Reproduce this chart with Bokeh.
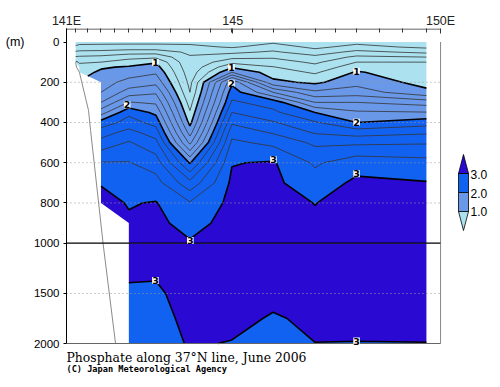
import numpy as np
from bokeh.plotting import figure
from bokeh.models import Range1d, FixedTicker, LabelSet, ColumnDataSource, LinearAxis
from bokeh.core.properties import value
from bokeh.embed import file_html
from bokeh.resources import INLINE

N = np.nan

# ---------------- data ----------------
# station longitudes (deg E)
lon = [141.22, 141.31, 141.83, 142.50, 143.15, 143.97, 144.98, 145.97, 146.98, 147.98, 149.66]
# grid of the top-axis ticks
tick_lon = [141.22, 141.51, 141.83, 142.16, 142.50, 142.82, 143.14, 143.50, 143.97, 144.46,
            144.97, 145.47, 145.97, 146.50, 146.99, 147.48, 147.98, 148.52, 149.08, 149.66]

depth_upper = [0, 25, 50, 75, 100, 125, 150, 200, 250, 300, 350, 400, 450, 500, 600, 700, 800, 900, 1000]

# phosphate per station, down depth_upper
po4_u_01 = [0.15, 0.22, 0.43, 0.62, 0.84, N, N, N, N, N, N, N, N, N, N, N, N, N, N]
po4_u_02 = [0.15, 0.25, 0.45, 0.63, 0.78, 0.86, 0.93, N, N, N, N, N, N, N, N, N, N, N, N]
po4_u_03 = [0.15, 0.26, 0.46, 0.65, 0.80, 0.98, 1.03, 1.11, 1.20, 1.40, 1.71, 2.08, 2.31, 2.47, 2.81, 2.99, 3.05, N, N]
po4_u_04 = [0.15, 0.27, 0.51, 0.73, 0.90, 1.02, 1.10, 1.27, 1.49, 1.81, 2.15, 2.28, 2.47, 2.62, 2.81, 2.90, 2.99, 3.02, 3.03]
po4_u_05 = [0.15, 0.27, 0.51, 0.76, 0.98, 1.08, 1.17, 1.34, 1.57, 1.77, 1.95, 2.13, 2.30, 2.46, 2.70, 2.88, 3.01, 3.04, 3.05]
po4_u_06 = [0.15, 0.25, 0.36, 0.42, 0.43, 0.45, 0.48, 0.54, 0.60, 0.71, 0.82, 0.94, 1.12, 1.35, 1.98, 2.46, 2.82, 2.94, 3.015]
po4_u_07 = [0.14, 0.18, 0.35, 0.54, 0.74, 0.97, 1.20, 1.95, 2.11, 2.23, 2.40, 2.57, 2.73, 2.84, 2.99, 3.04, 3.05, 3.06, 3.07]
po4_u_08 = [0.17, 0.29, 0.43, 0.57, 0.70, 0.81, 0.90, 1.05, 1.60, 2.12, 2.24, 2.42, 2.58, 2.75, 3.02, 3.04, 3.05, 3.06, 3.06]
po4_u_09 = [0.12, 0.16, 0.28, 0.46, 0.56, 0.67, 0.77, 0.96, 1.24, 1.60, 2.00, 2.22, 2.38, 2.56, 2.77, 2.89, 2.997, 3.02, 3.04]
po4_u_10 = [0.15, 0.26, 0.46, 0.64, 0.80, 0.91, 1.02, 1.13, 1.30, 1.60, 1.83, 2.00, 2.31, 2.56, 2.92, 3.04, 3.05, 3.05, 3.06]
po4_u_11 = [0.13, 0.16, 0.35, 0.60, 0.80, 0.83, 0.86, 0.93, 1.05, 1.51, 1.81, 2.11, 2.37, 2.58, 2.87, 3.01, 3.03, 3.05, 3.06]

lon_lower = lon[3:]
depth_lower = [1000, 1250, 1500, 1750, 2000]
po4_l_04 = [3.03, 3.02, 2.985, 2.95, 2.92]
po4_l_05 = [3.05, 3.02, 2.98, 2.96, 2.95]
po4_l_06 = [3.015, 3.05, 3.05, 3.03, 3.01]
po4_l_07 = [3.07, 3.06, 3.05, 3.03, 2.995]
po4_l_08 = [3.06, 3.05, 3.03, 2.99, 2.96]
po4_l_09 = [3.04, 3.05, 3.04, 3.02, 2.999]
po4_l_10 = [3.06, 3.05, 3.04, 3.02, 2.998]
po4_l_11 = [3.06, 3.05, 3.04, 3.02, 2.999]

fill_levels = [-1.0, 1.0, 2.0, 3.0, 9.0]
fill_colors = ["#ace2ef", "#6a98e8", "#1262f2", "#2a0ad2"]
thin_levels = [0.2, 0.4, 0.6, 0.8, 1.2, 1.4, 1.6, 1.8, 2.2, 2.4, 2.6, 2.8]
thick_levels = [1.0, 2.0, 3.0]

# contour labels
lbl_u_lon = [143.14, 144.97, 147.98, 142.46, 144.97, 147.98, 145.98, 147.98, 143.98]
lbl_u_dep = [102, 127, 145, 312, 205, 399, 585, 655, 986]
lbl_u_txt = ["1", "1", "1", "2", "2", "2", "3", "3", "3"]
lbl_l_lon = [143.14, 147.98]
lbl_l_dep = [1370, 1975]
lbl_l_txt = ["3", "3"]

# bottom topography outline
coast_u_lon = [141.22, 141.24, 141.31, 141.53, 141.58, 141.88]
coast_u_dep = [100, 125, 150, 340, 440, 1000]
coast_l_lon = [141.88, 142.18]
coast_l_dep = [1000, 2000]

yticks_upper = [0, 200, 400, 600, 800, 1000]
yticks_lower = [1500, 2000]
grid_upper = [200, 400, 600, 800]
grid_lower = [1500]

unit_text = "(m)"
title_text = "Phosphate along 37\u00b0N line, June 2006"
credit_text = "(C) Japan Meteorological Agency"

Zu = np.array([po4_u_01, po4_u_02, po4_u_03, po4_u_04, po4_u_05, po4_u_06,
               po4_u_07, po4_u_08, po4_u_09, po4_u_10, po4_u_11]).T
Zl = np.array([po4_l_04, po4_l_05, po4_l_06, po4_l_07, po4_l_08,
               po4_l_09, po4_l_10, po4_l_11]).T

# ---------------- figure: two depth scales in one frame ----------------
upper_rng = Range1d(1717.2, -67.1)     # 0-1000 m part  (~0.2 px per m)
lower_rng = Range1d(2440.0, -1150.0)   # 1000-2000 m part (0.1 px per m)

p = figure(width=492, height=387, x_range=Range1d(141.0, 151.25), y_range=upper_rng,
           x_axis_location="above", min_border_left=66, min_border_right=0,
           min_border_top=28, min_border_bottom=0, output_backend="svg",
           toolbar_location=None, outline_line_color=None)
p.extra_y_ranges = {"lower": lower_rng, "px": Range1d(387, 28)}
p.extra_x_ranges = {"px": Range1d(66, 492)}
p.grid.visible = False


def add_contours(X, Y, Z, thin, rname="default"):
    rs = [p.contour(x=X, y=Y, z=Z, levels=fill_levels, fill_color=fill_colors, line_color=None)]
    if thin:
        rs.append(p.contour(x=X, y=Y, z=Z, levels=thin_levels, fill_color=None,
                            line_color="#333333", line_width=0.8))
    rs.append(p.contour(x=X, y=Y, z=Z, levels=thick_levels, fill_color=None,
                        line_color="black", line_width=1.6))
    if rname != "default":
        for r in rs:
            r.y_range_name = rname
            for sub in (r.fill_renderer, r.line_renderer):
                if sub is not None:
                    sub.y_range_name = rname


add_contours(lon, depth_upper, Zu, True)
add_contours(lon_lower, depth_lower, Zl, False, "lower")

# dotted depth grid lines
p.multi_line(xs=[[141, 150]] * len(grid_upper), ys=[[d, d] for d in grid_upper],
             line_color="#999999", line_dash="1 3", line_width=1)
p.multi_line(xs=[[141, 150]] * len(grid_lower), ys=[[d, d] for d in grid_lower],
             line_color="#999999", line_dash="1 3", line_width=1, y_range_name="lower")

# topography
p.line(coast_u_lon, coast_u_dep, line_color="#8a8a8a", line_width=1)
p.line(coast_l_lon, coast_l_dep, line_color="#8a8a8a", line_width=1, y_range_name="lower")

# frame pieces
p.line([141, 150], [-64.6, -64.6], line_color="#333333", line_width=1)
p.line([150, 150], [0, 1000], line_color="#888888", line_width=1)
p.line([150, 150], [1000, 2000], line_color="#888888", line_width=1, y_range_name="lower")
p.line([141, 150], [1000, 1000], line_color="black", line_width=1.3)
p.line([141, 150], [2000, 2000], line_color="#666666", line_width=1, y_range_name="lower")

# contour labels
for lx, ly, lt, rn in ((lbl_u_lon, lbl_u_dep, lbl_u_txt, "default"),
                       (lbl_l_lon, lbl_l_dep, lbl_l_txt, "lower")):
    src = ColumnDataSource(dict(x=lx, y=ly, t=lt))
    p.add_layout(LabelSet(x="x", y="y", text="t", source=src, y_range_name=rn,
                          text_align="center", text_baseline="middle",
                          text_font=value("DejaVu Sans"), text_font_size="9.5px",
                          text_font_style="bold", text_color="black",
                          background_fill_color="white"))


# ---------------- axes ----------------
def lower_to_axis(d):
    # position of a lower-scale depth expressed on the upper (axis) scale
    frac = (d - lower_rng.end) / (lower_rng.start - lower_rng.end)
    return int(round(upper_rng.end + frac * (upper_rng.start - upper_rng.end)))


lower_tick_pos = [lower_to_axis(d) for d in yticks_lower]
ay = p.yaxis[0]
ay.ticker = FixedTicker(ticks=yticks_upper + lower_tick_pos)
ay.major_label_overrides = {pos: str(d) for pos, d in zip(lower_tick_pos, yticks_lower)}
ay.bounds = (upper_rng.end, lower_tick_pos[-1])
ay.axis_line_color = "black"
ay.major_tick_line_color = "black"
ay.major_tick_in = 0
ay.major_tick_out = 3
ay.minor_tick_line_color = None
ay.major_label_text_font = "Liberation Sans"
ay.major_label_text_font_size = "11.5px"
ay.major_label_text_color = "black"
ay.major_label_standoff = 4

# unit label "(m)" next to the 0 m tick, as an outer left axis
unit_axis = LinearAxis(ticker=FixedTicker(ticks=[0]), major_label_overrides={0: unit_text},
                       axis_line_color=None, major_tick_line_color=None,
                       minor_tick_line_color=None, major_label_standoff=0,
                       major_label_text_font="Liberation Sans",
                       major_label_text_font_size="12.5px", major_label_text_color="black")
p.add_layout(unit_axis, "left")

tx = p.xaxis[0]
tx.ticker = FixedTicker(ticks=[141, 145, 150], minor_ticks=tick_lon)
tx.major_label_overrides = {141: "141E", 145: "145", 150: "150E"}
tx.axis_line_color = None
tx.major_tick_line_color = "#333333"
tx.minor_tick_line_color = "#333333"
tx.major_tick_in = 5
tx.major_tick_out = 0
tx.minor_tick_in = 4
tx.minor_tick_out = 0
tx.major_label_text_font = "Liberation Sans"
tx.major_label_text_font_size = "12.5px"
tx.major_label_text_color = "#222222"
tx.major_label_standoff = 1

# ---------------- colour bar (legend) ----------------
cb_levels = fill_levels[1:4]
p.quad(left=458, right=468, top=[173, 192], bottom=[192, 211],
       fill_color=[fill_colors[2], fill_colors[1]], line_color="black", line_width=0.8,
       x_range_name="px", y_range_name="px")
p.patch([458, 468, 463], [173, 173, 154], fill_color=fill_colors[3], line_color="black",
        line_width=0.8, x_range_name="px", y_range_name="px")
p.patch([458, 468, 463], [211, 211, 230], fill_color=fill_colors[0], line_color="black",
        line_width=0.8, x_range_name="px", y_range_name="px")
p.text(x=[470] * 3, y=[211, 192.5, 174], text=[f"{v:.1f}" for v in cb_levels],
       text_font=value("Liberation Sans"), text_font_size="12px", text_color="black",
       text_baseline="middle", text_align="left", x_range_name="px", y_range_name="px")

# ---------------- captions ----------------
p.text(x=[66], y=[356.5], text=[title_text], text_font=value("DejaVu Serif"),
       text_font_size="12.4px", text_color="black", text_align="left",
       text_baseline="alphabetic", x_range_name="px", y_range_name="px")
p.text(x=[66], y=[368.5], text=[credit_text], text_font=value("DejaVu Sans Mono"),
       text_font_size="8.6px", text_font_style="bold", text_color="black",
       text_align="left", text_baseline="alphabetic", x_range_name="px", y_range_name="px")

open("out.html", "w").write(file_html(p, INLINE))
